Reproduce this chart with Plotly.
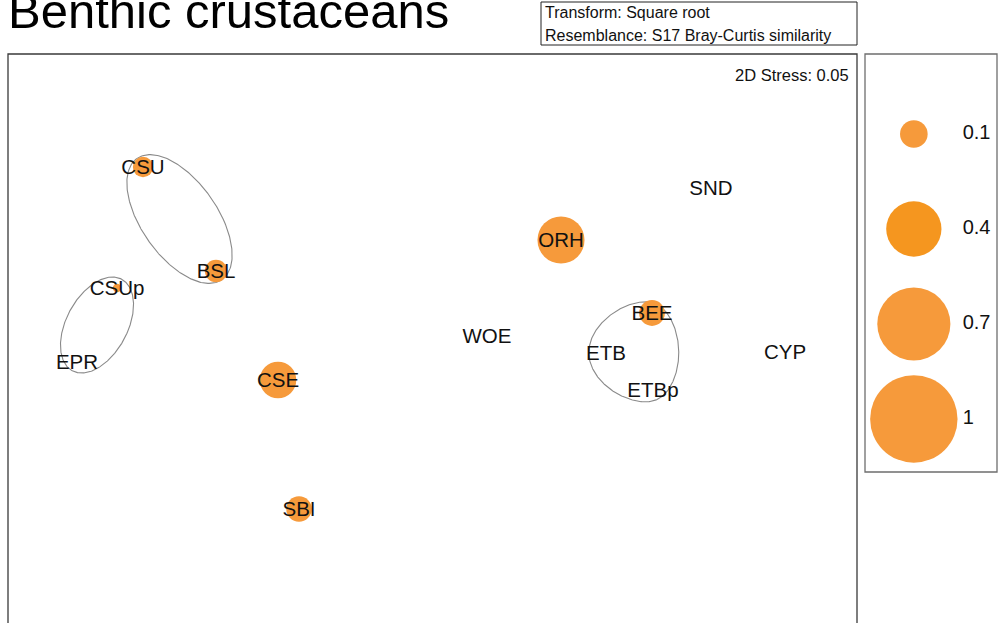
import numpy as np
import plotly.graph_objects as go

# nMDS ordination of benthic crustacean assemblages
samples = ["CSU", "BSL", "CSUp", "EPR", "CSE", "SBI", "ORH", "SND", "WOE", "BEE", "ETB", "ETBp", "CYP"]
mds1 = [-2.87, -2.14, -3.13, -3.53, -1.52, -1.31, 1.31, 2.81, 0.57, 2.22, 1.76, 2.23, 3.55]
mds2 = [1.63, 0.59, 0.42, -0.32, -0.50, -1.79, 0.90, 1.42, -0.06, 0.17, -0.23, -0.60, -0.22]
abundance = [0.054, 0.065, 0.009, 0, 0.175, 0.085, 0.29, 0, 0, 0.087, 0, 0, 0]

# cluster overlays (members) and their envelope size (sum of distances)
groups = [["CSU", "BSL"], ["CSUp", "EPR"], ["BEE", "ETB", "ETBp"]]
group_spread = [1.48, 1.04, 1.66]

legend_values = [0.1, 0.4, 0.7, 1]
legend_labels = ["0.1", "0.4", "0.7", "1"]

ORANGE = "#F69A3B"
SIZEREF = 1 / (2 * 43.7 ** 2)   # radius 43.7 px for a value of 1
LABEL_DY = -0.02                 # nudge labels so caps sit on the point
W, H = 999, 623


def envelope(xs, ys, total, n=360):
    # closed curve where the summed distance to the group points equals total
    xs, ys = np.asarray(xs), np.asarray(ys)
    cx, cy = xs.mean(), ys.mean()
    out_x, out_y = [], []
    for a in np.linspace(0, 2 * np.pi, n):
        ux, uy = np.cos(a), np.sin(a)
        lo, hi = 0.0, total
        for _ in range(50):
            mid = (lo + hi) / 2
            d = np.hypot(cx + mid * ux - xs, cy + mid * uy - ys).sum()
            if d < total:
                lo = mid
            else:
                hi = mid
        out_x.append(cx + lo * ux)
        out_y.append(cy + lo * uy)
    return out_x, out_y


fig = go.Figure()

pos = {s: (x, y) for s, x, y in zip(samples, mds1, mds2)}
for members, spread in zip(groups, group_spread):
    gx = [pos[m][0] for m in members]
    gy = [pos[m][1] for m in members]
    ex, ey = envelope(gx, gy, spread)
    fig.add_trace(go.Scatter(x=ex, y=ey, mode="lines", line=dict(color="#8a8a8a", width=1.1),
                             hoverinfo="skip", showlegend=False))

bx = [x for x, v in zip(mds1, abundance) if v > 0]
by = [y for y, v in zip(mds2, abundance) if v > 0]
bv = [v for v in abundance if v > 0]
fig.add_trace(go.Scatter(
    x=bx, y=by, mode="markers",
    marker=dict(size=bv, sizemode="area", sizeref=SIZEREF, sizemin=0, color=ORANGE,
                opacity=1, line=dict(width=0)),
    showlegend=False,
))
fig.add_trace(go.Scatter(
    x=mds1, y=[y + LABEL_DY for y in mds2], mode="text", text=samples, textposition="middle center",
    textfont=dict(family="Liberation Sans, Arial", size=20.5, color="#111111"),
    showlegend=False,
))

# bubble key
fig.add_trace(go.Scatter(
    x=[0.37] * len(legend_values), y=list(range(len(legend_values))), mode="markers",
    marker=dict(size=legend_values, sizemode="area", sizeref=SIZEREF, sizemin=0,
                color=[ORANGE, "#F5961F", ORANGE, ORANGE], opacity=1, line=dict(width=0)),
    xaxis="x2", yaxis="y2", showlegend=False, cliponaxis=False,
))
fig.add_trace(go.Scatter(
    x=[0.74] * len(legend_values), y=list(range(len(legend_values))), mode="text",
    text=legend_labels, textposition="middle right",
    textfont=dict(family="Liberation Sans, Arial", size=20, color="#111111"),
    xaxis="x2", yaxis="y2", showlegend=False, cliponaxis=False,
))

fig.update_layout(
    width=W, height=H, autosize=False,
    margin=dict(l=0, r=0, t=0, b=0),
    paper_bgcolor="white", plot_bgcolor="white",
    xaxis=dict(domain=[8 / W, 857 / W], range=[-4.22, 4.27], visible=False),
    yaxis=dict(domain=[0, 569 / H], range=[-2.93, 2.76], visible=False),
    xaxis2=dict(domain=[865 / W, 997 / W], range=[0, 1], visible=False, anchor="y2"),
    yaxis2=dict(domain=[1 - 472 / H, 1 - 54 / H], range=[3.558, -0.842], visible=False, anchor="x2"),
    shapes=[
        dict(type="rect", xref="paper", yref="paper", x0=8 / W, x1=857 / W, y0=-0.2, y1=1 - 54 / H,
             line=dict(color="#3a3a3a", width=1.3)),
        dict(type="rect", xref="paper", yref="paper", x0=865 / W, x1=997 / W, y0=1 - 472 / H, y1=1 - 54 / H,
             line=dict(color="#6e6e6e", width=1.3)),
        dict(type="rect", xref="paper", yref="paper", x0=541 / W, x1=857 / W, y0=1 - 45 / H, y1=1 - 2 / H,
             line=dict(color="#222222", width=1)),
    ],
    annotations=[
        dict(text="Benthic crustaceans", xref="paper", yref="paper", x=6 / W, y=1 - 11 / H,
             xanchor="left", yanchor="middle", showarrow=False,
             font=dict(family="Liberation Sans, Arial", size=49, color="#000000")),
        dict(text="Transform: Square root", xref="paper", yref="paper", x=543 / W, y=1 - 13 / H,
             xanchor="left", yanchor="middle", showarrow=False,
             font=dict(family="Liberation Sans, Arial", size=16, color="#111111")),
        dict(text="Resemblance: S17 Bray-Curtis similarity", xref="paper", yref="paper", x=543 / W, y=1 - 35 / H,
             xanchor="left", yanchor="middle", showarrow=False,
             font=dict(family="Liberation Sans, Arial", size=16, color="#111111")),
        dict(text="2D Stress: 0.05", xref="paper", yref="paper", x=851 / W, y=1 - 75 / H,
             xanchor="right", yanchor="middle", showarrow=False,
             font=dict(family="Liberation Sans, Arial", size=16.5, color="#111111")),
    ],
)

# drop the browser's default body margin so the figure sits at the window corner
fig.write_html("out.html", config={"displayModeBar": False},
               post_script="document.body.style.margin = '0';")
